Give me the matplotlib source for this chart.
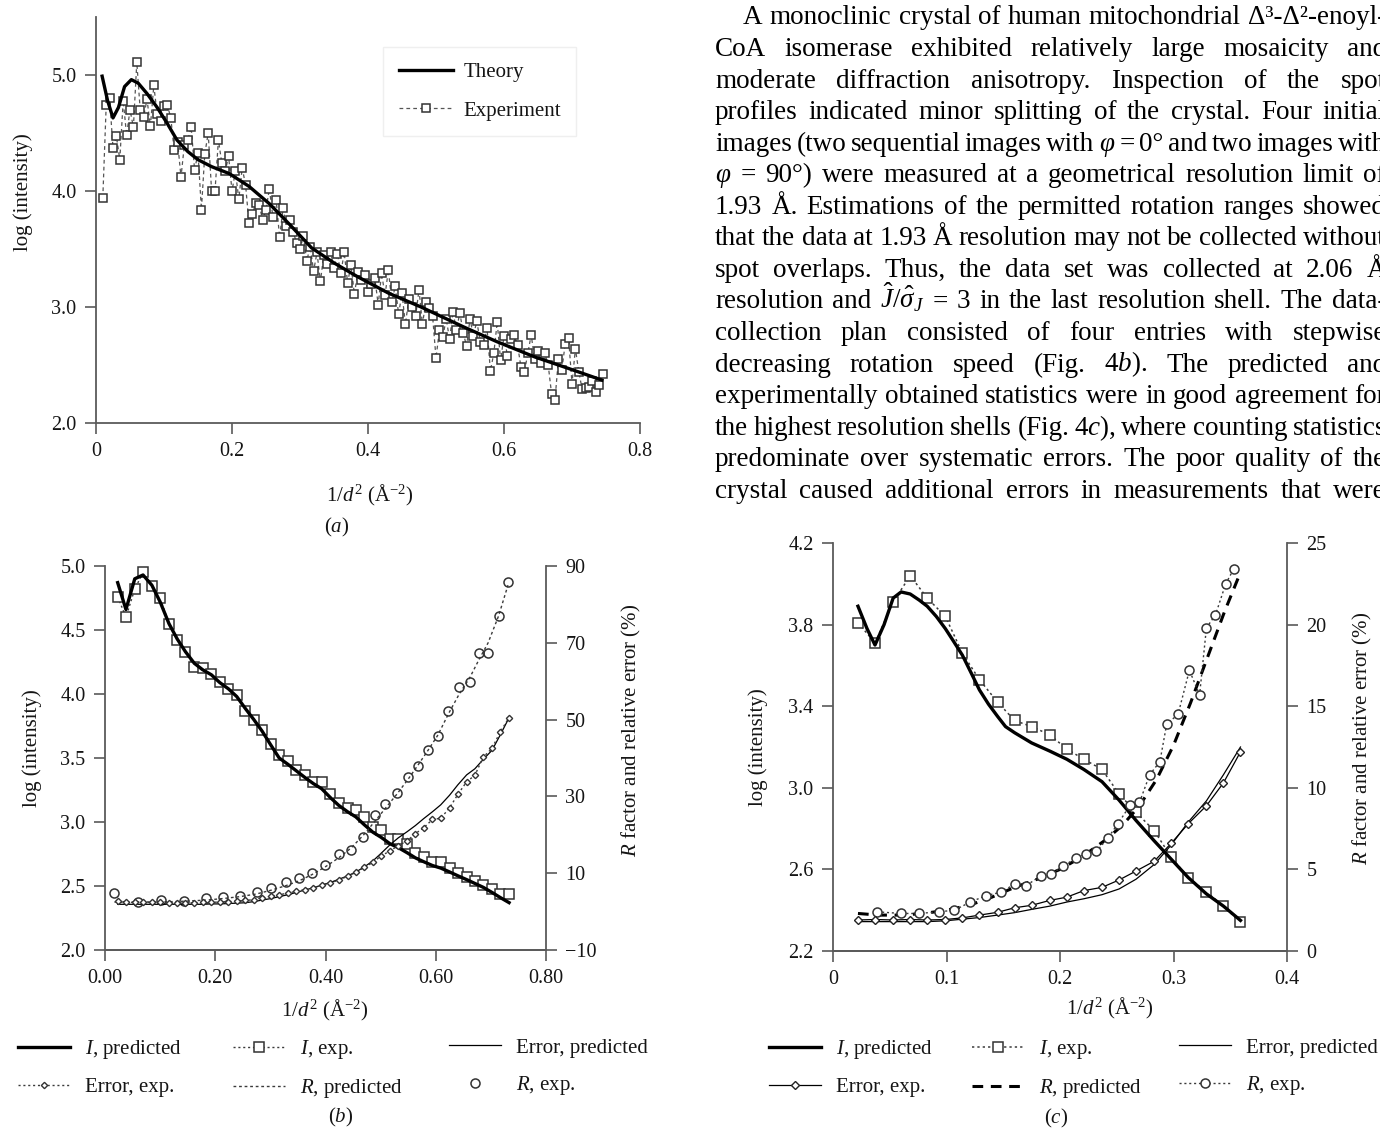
import matplotlib
matplotlib.use("Agg")
import matplotlib.pyplot as plt

plt.rcParams.update({
    "font.family": ["Liberation Serif", "DejaVu Serif"],
    "mathtext.fontset": "custom",
    "mathtext.rm": "Liberation Serif",
    "mathtext.it": "Liberation Serif:italic",
    "mathtext.bf": "Liberation Serif:bold",
    "axes.linewidth": 1.3,
    "axes.edgecolor": "#5a5a5a",
})

# ── panel (a): single-image intensity profile ───────────────────────────────
theory_a_x = [0.009, 0.017, 0.025, 0.033, 0.042, 0.052, 0.062, 0.075, 0.090, 0.105,
              0.119, 0.135, 0.150, 0.170, 0.196, 0.225, 0.255, 0.285, 0.317, 0.350,
              0.385, 0.430, 0.478, 0.540, 0.590, 0.645, 0.700, 0.744]
theory_a_y = [4.99, 4.78, 4.63, 4.72, 4.90, 4.96, 4.93, 4.84, 4.72, 4.58,
              4.44, 4.34, 4.27, 4.21, 4.15, 4.04, 3.89, 3.71, 3.51, 3.38,
              3.26, 3.12, 3.00, 2.83, 2.70, 2.57, 2.46, 2.37]

exp_a_x = [0.010, 0.015, 0.020, 0.025, 0.030, 0.035, 0.040, 0.045, 0.050, 0.055,
           0.060, 0.065, 0.070, 0.075, 0.080, 0.085, 0.090, 0.095, 0.100, 0.105,
           0.110, 0.115, 0.120, 0.125, 0.130, 0.135, 0.140, 0.145, 0.150, 0.155,
           0.160, 0.165, 0.170, 0.175, 0.180, 0.185, 0.190, 0.195, 0.200, 0.205,
           0.210, 0.215, 0.220, 0.225, 0.230, 0.235, 0.240, 0.245, 0.250, 0.255,
           0.260, 0.265, 0.270, 0.275, 0.280, 0.285, 0.290, 0.295, 0.300, 0.305,
           0.310, 0.315, 0.320, 0.325, 0.330, 0.335, 0.340, 0.345, 0.350, 0.355,
           0.360, 0.365, 0.370, 0.375, 0.380, 0.385, 0.390, 0.395, 0.400, 0.405,
           0.410, 0.415, 0.420, 0.425, 0.430, 0.435, 0.440, 0.445, 0.450, 0.455,
           0.460, 0.465, 0.470, 0.475, 0.480, 0.485, 0.490, 0.495, 0.500, 0.505,
           0.510, 0.515, 0.520, 0.525, 0.530, 0.535, 0.540, 0.545, 0.550, 0.555,
           0.560, 0.565, 0.570, 0.575, 0.580, 0.585, 0.590, 0.595, 0.600, 0.605,
           0.610, 0.615, 0.620, 0.625, 0.630, 0.635, 0.640, 0.645, 0.650, 0.655,
           0.660, 0.665, 0.670, 0.675, 0.680, 0.685, 0.690, 0.695, 0.700, 0.705,
           0.710, 0.715, 0.720, 0.725, 0.730, 0.735, 0.740, 0.745]
exp_a_y = [3.94, 4.74, 4.80, 4.37, 4.47, 4.27, 4.78, 4.48, 4.70, 4.55,
           5.11, 4.70, 4.64, 4.79, 4.56, 4.91, 4.66, 4.60, 4.73, 4.74,
           4.63, 4.35, 4.42, 4.12, 4.40, 4.44, 4.55, 4.18, 4.33, 3.84,
           4.32, 4.50, 4.00, 4.00, 4.44, 4.24, 4.17, 4.30, 4.00, 4.17,
           3.93, 4.20, 4.05, 3.72, 3.80, 3.90, 3.88, 3.75, 3.84, 4.02,
           3.78, 3.92, 3.60, 3.85, 3.70, 3.75, 3.65, 3.55, 3.50, 3.61,
           3.40, 3.52, 3.31, 3.47, 3.22, 3.45, 3.37, 3.47, 3.34, 3.46,
           3.29, 3.47, 3.21, 3.36, 3.11, 3.30, 3.23, 3.28, 3.13, 3.20,
           3.25, 3.02, 3.29, 3.10, 3.32, 3.04, 3.18, 2.94, 3.12, 2.85,
           3.07, 3.00, 2.92, 3.15, 2.85, 3.04, 2.99, 2.92, 2.56, 2.80,
           2.74, 2.90, 2.72, 2.96, 2.80, 2.95, 2.78, 2.66, 2.90, 2.75,
           2.88, 2.70, 2.67, 2.82, 2.45, 2.60, 2.87, 2.54, 2.75, 2.58,
           2.72, 2.76, 2.67, 2.48, 2.44, 2.60, 2.76, 2.55, 2.62, 2.52,
           2.60, 2.50, 2.25, 2.20, 2.55, 2.46, 2.68, 2.73, 2.34, 2.64,
           2.44, 2.29, 2.30, 2.31, 2.36, 2.27, 2.33, 2.42]

# ── panel (b): full data set, resolution shells ─────────────────────────────
shell_b = [0.023, 0.038, 0.054, 0.069, 0.085, 0.100, 0.116, 0.131, 0.146, 0.162,
           0.177, 0.193, 0.208, 0.224, 0.239, 0.254, 0.270, 0.285, 0.301, 0.316,
           0.332, 0.347, 0.362, 0.378, 0.393, 0.409, 0.424, 0.440, 0.455, 0.470,
           0.486, 0.501, 0.517, 0.532, 0.548, 0.563, 0.578, 0.594, 0.609, 0.625,
           0.640, 0.656, 0.671, 0.686, 0.702, 0.717, 0.733]
i_pred_b = [4.87, 4.66, 4.90, 4.93, 4.85, 4.72, 4.55, 4.43, 4.33, 4.24,
            4.19, 4.15, 4.09, 4.04, 3.98, 3.89, 3.80, 3.71, 3.60, 3.50,
            3.45, 3.40, 3.35, 3.30, 3.26, 3.19, 3.13, 3.08, 3.04, 2.98,
            2.92, 2.88, 2.83, 2.80, 2.76, 2.72, 2.69, 2.66, 2.64, 2.61,
            2.58, 2.55, 2.52, 2.49, 2.45, 2.41, 2.37]
i_exp_b = [4.76, 4.60, 4.82, 4.95, 4.84, 4.75, 4.55, 4.42, 4.33, 4.21,
           4.20, 4.16, 4.09, 4.04, 3.99, 3.87, 3.80, 3.72, 3.61, 3.52,
           3.48, 3.41, 3.37, 3.31, 3.31, 3.22, 3.15, 3.11, 3.09, 3.04,
           2.96, 2.94, 2.87, 2.87, 2.83, 2.76, 2.73, 2.69, 2.69, 2.64,
           2.60, 2.57, 2.54, 2.51, 2.48, 2.44, 2.44]
err_pred_b = [1.9, 1.9, 1.9, 1.9, 1.9, 1.9, 1.9, 1.9, 1.9, 1.9,
              1.9, 2.0, 2.0, 2.1, 2.2, 2.3, 2.6, 3.0, 3.4, 3.9,
              4.4, 5.0, 5.6, 6.2, 6.9, 7.6, 8.4, 9.3, 10.3, 11.6,
              13.2, 15.2, 17.4, 19.2, 20.8, 22.4, 24.2, 26.0, 27.8, 30.3,
              33.0, 35.6, 37.2, 39.6, 42.0, 46.0, 50.5]
err_exp_b = [2.8, 2.5, 2.5, 2.5, 2.5, 2.4, 2.2, 2.2, 2.2, 2.3,
             2.4, 2.4, 2.5, 2.6, 2.7, 2.9, 3.1, 3.6, 4.0, 4.4,
             4.8, 5.3, 5.7, 6.2, 6.9, 7.5, 8.2, 9.2, 10.2, 11.5,
             12.8, 14.5, 15.8, 17.2, 18.4, 20.3, 21.8, 24.0, 24.3, 27.0,
             30.5, 33.8, 35.5, 40.2, 42.5, 46.8, 50.5]
r_shell_b = [0.017, 0.060, 0.102, 0.143, 0.184, 0.214, 0.245, 0.275, 0.302, 0.329,
             0.352, 0.375, 0.399, 0.424, 0.446, 0.468, 0.489, 0.508, 0.529, 0.550,
             0.568, 0.586, 0.604, 0.623, 0.642, 0.662, 0.678, 0.695, 0.714, 0.731]
r_pred_b = [2.5, 2.4, 2.5, 2.7, 3.0, 3.4, 3.9, 4.6, 5.6, 6.8,
            8.0, 9.6, 11.6, 14.0, 16.5, 19.8, 23.4, 26.8, 30.5, 34.5,
            38.2, 42.0, 46.0, 51.5, 56.5, 61.0, 65.5, 70.0, 77.0, 85.0]
r_exp_b = [4.8, 2.6, 3.0, 2.8, 3.5, 3.7, 4.1, 5.0, 6.2, 7.6,
           8.7, 10.0, 12.1, 15.0, 16.0, 19.5, 25.2, 27.9, 30.8, 35.0,
           37.9, 42.1, 45.8, 52.3, 58.6, 59.9, 67.4, 67.4, 77.0, 85.9]

# ── panel (c): high-resolution shells ───────────────────────────────────────
shell_c = [0.022, 0.037, 0.053, 0.068, 0.083, 0.099, 0.114, 0.129, 0.145, 0.160,
           0.175, 0.191, 0.206, 0.221, 0.237, 0.252, 0.267, 0.283, 0.298, 0.313,
           0.329, 0.344, 0.359]
i_exp_c = [3.81, 3.71, 3.91, 4.04, 3.93, 3.84, 3.66, 3.53, 3.42, 3.33,
           3.30, 3.26, 3.19, 3.14, 3.09, 2.97, 2.88, 2.79, 2.66, 2.56,
           2.49, 2.42, 2.34]
err_pred_c = [1.8, 1.8, 1.8, 1.8, 1.8, 1.85, 1.95, 2.05, 2.2, 2.35,
              2.55, 2.75, 3.0, 3.2, 3.45, 3.8, 4.4, 5.3, 6.5, 7.9,
              9.2, 10.8, 12.5]
err_exp_c = [1.9, 1.93, 1.9, 1.93, 1.9, 1.93, 2.03, 2.2, 2.37, 2.65,
             2.8, 3.1, 3.3, 3.7, 3.9, 4.35, 4.9, 5.5, 6.6, 7.8,
             8.9, 10.3, 12.2]
i_pred_c_x = [0.022, 0.030, 0.037, 0.045, 0.053, 0.060, 0.068, 0.076, 0.083, 0.091,
              0.099, 0.106, 0.114, 0.122, 0.129, 0.137, 0.145, 0.152, 0.160, 0.175,
              0.191, 0.206, 0.221, 0.237, 0.252, 0.267, 0.283, 0.298, 0.313, 0.329,
              0.344, 0.359]
i_pred_c = [3.89, 3.78, 3.70, 3.80, 3.93, 3.96, 3.95, 3.92, 3.89, 3.84,
            3.78, 3.72, 3.65, 3.56, 3.48, 3.41, 3.35, 3.30, 3.27, 3.22,
            3.18, 3.14, 3.09, 3.03, 2.94, 2.84, 2.74, 2.65, 2.56, 2.48,
            2.42, 2.35]
r_pred_c_x = [0.022, 0.040, 0.060, 0.080, 0.100, 0.120, 0.140, 0.160, 0.180, 0.200,
              0.220, 0.240, 0.255, 0.270, 0.285, 0.300, 0.315, 0.330, 0.345, 0.359]
r_pred_c = [2.3, 2.2, 2.2, 2.3, 2.5, 2.8, 3.3, 3.9, 4.4, 5.0,
            5.8, 6.8, 7.7, 8.9, 10.5, 12.6, 15.2, 18.0, 20.8, 23.2]
r_exp_c_x = [0.039, 0.060, 0.076, 0.093, 0.107, 0.121, 0.135, 0.148, 0.160, 0.170,
             0.183, 0.192, 0.203, 0.214, 0.223, 0.232, 0.242, 0.251, 0.262, 0.270,
             0.279, 0.288, 0.294, 0.304, 0.314, 0.323, 0.329, 0.337, 0.346, 0.353]
r_exp_c = [2.4, 2.3, 2.3, 2.4, 2.5, 3.0, 3.4, 3.6, 4.1, 4.0,
           4.6, 4.7, 5.2, 5.7, 5.95, 6.1, 6.9, 7.8, 8.95, 9.1,
           10.8, 11.6, 13.9, 14.5, 17.2, 15.7, 19.8, 20.6, 22.5, 23.4]

paragraph = [
    "A monoclinic crystal of human mitochondrial Δ³-Δ²-enoyl-",
    "CoA isomerase exhibited relatively large mosaicity and",
    "moderate diffraction anisotropy. Inspection of the spot",
    "profiles indicated minor splitting of the crystal. Four initial",
    r"images (two sequential images with $\varphi$ = 0° and two images with",
    r"$\varphi$ = 90°) were measured at a geometrical resolution limit of",
    "1.93 Å. Estimations of the permitted rotation ranges showed",
    "that the data at 1.93 Å resolution may not be collected without",
    "spot overlaps. Thus, the data set was collected at 2.06 Å",
    r"resolution and $\hat{J}/\hat{\sigma}_J$ = 3 in the last resolution shell. The data-",
    "collection plan consisted of four entries with stepwise",
    "decreasing rotation speed (Fig. 4$b$). The predicted and",
    "experimentally obtained statistics were in good agreement for",
    "the highest resolution shells (Fig. 4$c$), where counting statistics",
    "predominate over systematic errors. The poor quality of the",
    "crystal caused additional errors in measurements that were",
]

# ── figure set-up (everything laid out in pixels) ───────────────────────────
W, H = 1380, 1137
fig = plt.figure(figsize=(W / 100, H / 100), dpi=100)
fig.patch.set_facecolor("white")

INK = "#151515"
AXIS = "#5a5a5a"
LINE = "#3a3a3a"
FS = 14.5
XLABEL = r"1/$d^{2}$ (Å$^{-2}$)"
RLABEL = "$R$ factor and relative error (%)"


def fx(x):
    return x / W


def fy(y):
    return 1 - y / H


def panel(left, top, right, bottom):
    ax = fig.add_axes([fx(left), fy(bottom), (right - left) / W, (bottom - top) / H])
    ax.spines["top"].set_visible(False)
    ax.spines["right"].set_visible(False)
    ax.tick_params(direction="out", length=8, width=1.2, pad=6, labelsize=FS,
                   color=AXIS, labelcolor=INK)
    return ax


def right_axis(ax):
    ax2 = ax.twinx()
    ax2.spines["top"].set_visible(False)
    ax2.spines["left"].set_visible(False)
    ax2.tick_params(direction="out", length=8, width=1.2, pad=6, labelsize=FS,
                    color=AXIS, labelcolor=INK)
    return ax2


def put_label(axis, text, x, y):
    axis.set_label_text(text, fontsize=15, color=INK, ha="center", va="center")
    axis.set_label_coords(fx(x), fy(y), transform=fig.transFigure)


def caption(text, x, y):
    fig.text(fx(x), fy(y), text, fontsize=15, color=INK, ha="center", va="center")


def legend_column(handles, labels, x, y_top):
    fig.legend(handles, labels, loc="upper left", bbox_to_anchor=(fx(x), fy(y_top)),
               frameon=False, borderpad=0, borderaxespad=0, fontsize=15,
               handlelength=2.5, handletextpad=0.7, labelspacing=0.78,
               labelcolor=INK)


# panel (a)
ax_a = panel(96, 17, 640, 423)
exp_line, = ax_a.plot(exp_a_x, exp_a_y, color="#555555", lw=0.9, ls=(0, (3, 2.5)),
                      marker="s", ms=5.8, mfc="white", mec="#333333", mew=1.1, zorder=2)
th_line, = ax_a.plot(theory_a_x, theory_a_y, color="black", lw=2.4, zorder=3)
ax_a.set_xlim(0, 0.8)
ax_a.set_ylim(2.0, 5.5)
ax_a.set_xticks([0, 0.2, 0.4, 0.6, 0.8], ["0", "0.2", "0.4", "0.6", "0.8"])
ax_a.set_yticks([2, 3, 4, 5], ["2.0", "3.0", "4.0", "5.0"])
put_label(ax_a.xaxis, XLABEL, 370, 495)
put_label(ax_a.yaxis, "log (intensity)", 23, 192)
caption("($a$)", 337, 527)
fig.legend([th_line, exp_line], ["Theory", "Experiment"], loc="upper left",
           bbox_to_anchor=(fx(383), fy(47)), borderaxespad=0, borderpad=0.75,
           fontsize=15, handlelength=2.6, handletextpad=0.5, labelspacing=0.9,
           fancybox=False, edgecolor="#efefef", framealpha=1, labelcolor=INK)

# panel (b)
ax_b = panel(105, 566, 546, 950)
ax_b2 = right_axis(ax_b)
ib_exp, = ax_b.plot(shell_b, i_exp_b, color=LINE, lw=1.0, ls=(0, (1.5, 2)),
                    marker="s", ms=7.2, mfc="white", mec="#333333", mew=1.1, zorder=2)
ib_pred, = ax_b.plot(shell_b, i_pred_b, color="black", lw=2.4, zorder=3)
rb_pred, = ax_b2.plot(r_shell_b, r_pred_b, color=LINE, lw=1.0, ls=(0, (2, 2)))
rb_exp, = ax_b2.plot(r_shell_b, r_exp_b, ls="none", marker="o", ms=6.5,
                     mfc="none", mec="#333333", mew=1.1)
eb_pred, = ax_b2.plot(shell_b, err_pred_b, color="black", lw=0.9)
eb_exp, = ax_b2.plot(shell_b, err_exp_b, color=LINE, lw=1.0, ls=(0, (1.5, 2)),
                     marker="D", ms=3.2, mfc="white", mec="#333333", mew=1.0)
ax_b.set_xlim(0, 0.8)
ax_b.set_ylim(2.0, 5.0)
ax_b.set_xticks([0, 0.2, 0.4, 0.6, 0.8], ["0.00", "0.20", "0.40", "0.60", "0.80"])
ax_b.set_yticks([2.0, 2.5, 3.0, 3.5, 4.0, 4.5, 5.0],
                ["2.0", "2.5", "3.0", "3.5", "4.0", "4.5", "5.0"])
ax_b2.set_ylim(-10, 90)
ax_b2.set_yticks([-10, 10, 30, 50, 70, 90])
put_label(ax_b.xaxis, XLABEL, 325, 1010)
put_label(ax_b.yaxis, "log (intensity)", 32, 748)
put_label(ax_b2.yaxis, RLABEL, 631, 730)
legend_column([ib_pred, eb_exp], ["$I$, predicted", "Error, exp."], 18, 1038)
legend_column([ib_exp, rb_pred], ["$I$, exp.", "$R$, predicted"], 233, 1038)
legend_column([eb_pred, rb_exp], ["Error, predicted", "$R$, exp."], 449, 1038)
caption("($b$)", 341, 1117)

# panel (c)
ax_c = panel(833, 543, 1287, 951)
ax_c2 = right_axis(ax_c)
ic_exp, = ax_c.plot(shell_c, i_exp_c, color=LINE, lw=1.1, ls=(0, (1.5, 2)),
                    marker="s", ms=7.8, mfc="white", mec="#333333", mew=1.1, zorder=2)
ic_pred, = ax_c.plot(i_pred_c_x, i_pred_c, color="black", lw=2.4, zorder=3)
rc_pred, = ax_c2.plot(r_pred_c_x, r_pred_c, color="black", lw=2.2, ls=(0, (3.5, 2.5)))
rc_exp, = ax_c2.plot(r_exp_c_x, r_exp_c, color=LINE, lw=1.0, ls=(0, (1.5, 2)),
                     marker="o", ms=6.5, mfc="white", mec="#333333", mew=1.1)
ec_pred, = ax_c2.plot(shell_c, err_pred_c, color="black", lw=0.9)
ec_exp, = ax_c2.plot(shell_c, err_exp_c, color="black", lw=0.9,
                     marker="D", ms=3.8, mfc="white", mec="#222222", mew=1.0)
ax_c.set_xlim(0, 0.4)
ax_c.set_ylim(2.2, 4.2)
ax_c.set_xticks([0, 0.1, 0.2, 0.3, 0.4], ["0", "0.1", "0.2", "0.3", "0.4"])
ax_c.set_yticks([2.2, 2.6, 3.0, 3.4, 3.8, 4.2], ["2.2", "2.6", "3.0", "3.4", "3.8", "4.2"])
ax_c2.set_ylim(0, 25)
ax_c2.set_yticks([0, 5, 10, 15, 20, 25])
put_label(ax_c.xaxis, XLABEL, 1110, 1008)
put_label(ax_c.yaxis, "log (intensity)", 758, 747)
put_label(ax_c2.yaxis, RLABEL, 1362, 738)
legend_column([ic_pred, ec_exp], ["$I$, predicted", "Error, exp."], 769, 1038)
legend_column([ic_exp, rc_pred], ["$I$, exp.", "$R$, predicted"], 972, 1038)
legend_column([ec_pred, rc_exp], ["Error, predicted", "$R$, exp."], 1179, 1038)
caption("($c$)", 1056, 1118)

# ── justified body text in the right-hand column ────────────────────────────
renderer = fig.canvas.get_renderer()
RIGHT_EDGE = 1386
for i, line in enumerate(paragraph):
    base = 24.5 + 31.55 * i
    x0 = 743 if i == 0 else 715
    words = line.split(" ")
    size = 19.5
    while True:
        pieces = [fig.text(0, fy(base), w, fontsize=size, color="black",
                           ha="left", va="baseline") for w in words]
        widths = [p.get_window_extent(renderer).width for p in pieces]
        gap = (RIGHT_EDGE - x0 - sum(widths)) / (len(words) - 1)
        if gap >= 4.0 or size <= 15:
            break
        for p in pieces:
            p.remove()
        size -= 0.25
    x = x0
    for p, w in zip(pieces, widths):
        p.set_x(fx(x))
        x += w + gap

fig.savefig("out.png", dpi=100, facecolor="white")
